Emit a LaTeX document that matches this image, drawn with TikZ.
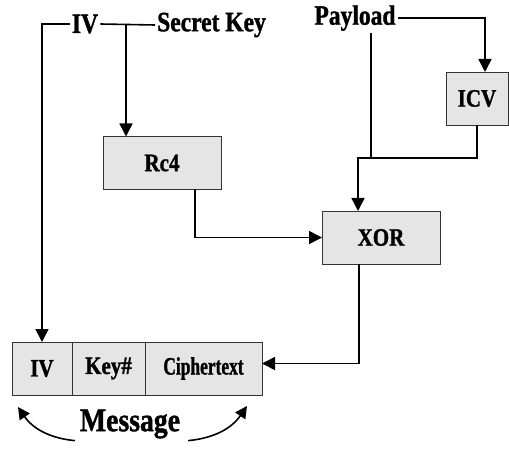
\documentclass[tikz,border=0pt]{standalone}
\usepackage{fontspec}
\setmainfont{Liberation Serif}[FakeStretch=0.84, BoldFeatures={FakeBold=1.2}]
\usetikzlibrary{positioning,arrows.meta}

\begin{document}
\begin{tikzpicture}[
  x=1pt, y=-1pt,
  % Grey blocks for the processing steps
  block/.style={rectangle, draw=black!80, fill=black!10, line width=0.8pt,
    minimum height=53pt, inner sep=0pt, outer sep=0pt,
    font=\fontsize{25}{27}\selectfont\bfseries},
  % Plain labels for the inputs
  tag/.style={inner sep=2pt, font=\fontsize{28}{30}\selectfont\bfseries},
  % Thick lines, solid heads
  wire/.style={draw, line width=1.6pt},
  flow/.style={wire, -{Triangle[length=13pt, width=13pt]}},
  curve/.style={wire, -{Triangle[length=12pt, width=12pt]}},
]
  \useasboundingbox (0,0) rectangle (509,449);

  % === Inputs ===
  \node[tag] (ivtag) at (85,24) {IV};
  \node[tag, anchor=west] (secret) at (155,25) {Secret Key};
  \node[tag] (payload) at (355,18) {Payload};

  % === Processing blocks ===
  \node[block, minimum width=62pt] (icv) at (477,98.5) {ICV};
  \node[block, minimum width=118pt] (rc4) at (162,163) {Rc4};
  \node[block, minimum width=118pt] (xor) at (381,237.5) {XOR};

  % === Message frame ===
  \node[block, minimum width=60pt] (ivcell) at (42,368.5) {IV};
  \node[block, minimum width=73pt, right=0pt of ivcell] (keycell) {Key\#};
  \node[block, minimum width=117pt, right=0pt of keycell] (ciphercell)
    {\scalebox{0.83}[1]{Ciphertext}};
  \node[tag, font=\fontsize{33}{35}\selectfont\bfseries] (message) at (130,424) {Message};

  % === Junctions ===
  \coordinate (split) at (126,24);
  \coordinate (merge) at (358,158);
  \coordinate (drop) at (371,158);

  % === Edges: key stream ===
  \draw[flow] (ivtag.west) -| (ivcell.north);
  \draw[wire] (ivtag.east) -- (secret.west);
  \draw[flow] (split) -- (split |- rc4.north);
  \draw[flow] ([xshift=33pt]rc4.south) |- (xor.west);

  % === Edges: payload and checksum ===
  \draw[flow] (payload.east) -| ([xshift=8pt]icv.north);
  \draw[wire] (payload.south -| drop) -- (drop);
  \draw[flow] (icv.south) |- (merge) -- (merge |- xor.north);

  % === Edges: output ===
  \draw[flow] ([xshift=-22pt]xor.south) |- ([yshift=5pt]ciphercell.east);
  \draw[curve] ([xshift=-3pt]message.south west) to[bend left=25] ([shift={(6,12)}]ivcell.south west);
  \draw[curve] ([xshift=6pt]message.south east) to[bend right=25] ([shift={(-15,11)}]ciphercell.south east);
\end{tikzpicture}
\end{document}
